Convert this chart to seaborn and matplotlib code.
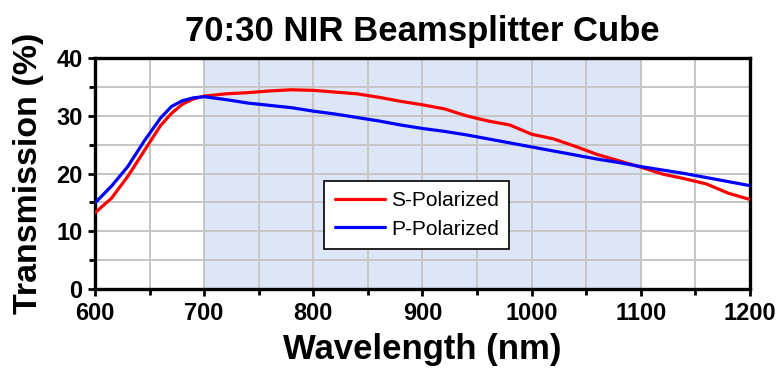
import seaborn as sns
import pandas as pd
import matplotlib.pyplot as plt
from matplotlib.ticker import MultipleLocator

wavelength = [600, 615, 630, 645, 660, 670, 680, 690, 700, 720, 740, 760, 780, 800, 820, 840,
              860, 880, 900, 920, 940, 960, 980, 1000, 1020, 1040, 1060, 1080, 1100,
              1120, 1140, 1160, 1180, 1200]
s_pol = [13.2, 15.7, 19.5, 23.9, 28.3, 30.4, 32.0, 32.9, 33.4, 33.8, 34.0, 34.3, 34.5, 34.4, 34.1,
         33.8, 33.2, 32.5, 31.9, 31.2, 30.0, 29.1, 28.4, 26.8, 26.0, 24.7, 23.3, 22.2, 21.1,
         19.9, 19.1, 18.2, 16.6, 15.5]
p_pol = [14.9, 17.8, 21.2, 25.6, 29.6, 31.6, 32.6, 33.1, 33.3, 32.8, 32.2, 31.8, 31.4, 30.8, 30.3,
         29.7, 29.1, 28.4, 27.8, 27.3, 26.7, 26.0, 25.3, 24.6, 23.9, 23.2, 22.5, 21.9, 21.2,
         20.6, 20.0, 19.3, 18.6, 17.9]
labels = ["S-Polarized", "P-Polarized"]
shade = (700, 1100)

df = pd.DataFrame({
    "wl": wavelength * 2,
    "T": s_pol + p_pol,
    "pol": [labels[0]] * len(s_pol) + [labels[1]] * len(p_pol),
})

sns.set_style("white")
plt.rcParams["font.family"] = ["Liberation Sans", "DejaVu Sans"]
plt.rcParams.update({"text.color": "black", "axes.labelcolor": "black",
                     "xtick.color": "black", "ytick.color": "black"})

fig = plt.figure(figsize=(7.8, 3.7), dpi=100)
ax = fig.add_axes([0.1218, 0.2189, 0.8397, 0.6243])

ax.axvspan(*shade, color="#dde6f6", zorder=0.2, lw=0)
sns.lineplot(data=df, x="wl", y="T", hue="pol", palette=["#ff0000", "#0000ff"],
             lw=2.3, ax=ax, zorder=3)

ax.set_xlim(600, 1200)
ax.set_ylim(0, 40)
ax.xaxis.set_major_locator(MultipleLocator(100))
ax.xaxis.set_minor_locator(MultipleLocator(50))
ax.yaxis.set_major_locator(MultipleLocator(10))
ax.yaxis.set_minor_locator(MultipleLocator(5))
ax.set_axisbelow(True)
ax.grid(which="both", color="#c6c6c6", lw=1.4)

for s in ax.spines.values():
    s.set_linewidth(2.4)
    s.set_color("black")
ax.tick_params(which="major", length=5, width=2, labelsize=17, direction="out", pad=4)
ax.tick_params(which="minor", length=4, width=2, direction="out")
ax.tick_params(axis="both", which="both", bottom=True, left=True)
for t in ax.get_xticklabels() + ax.get_yticklabels():
    t.set_fontweight("bold")

ax.set_xlabel("Wavelength (nm)", fontsize=25, fontweight="bold", labelpad=6)
ax.set_ylabel("Transmission (%)", fontsize=24.5, fontweight="bold", labelpad=9)
ax.set_title("70:30 NIR Beamsplitter Cube", fontsize=25, fontweight="bold", pad=12)

leg = ax.legend(loc="lower left", bbox_to_anchor=(0.35, 0.173), borderaxespad=0,
                fontsize=15, frameon=True, fancybox=False, edgecolor="black",
                handlelength=2.4, handletextpad=0.3, borderpad=0.5, labelspacing=0.45)
leg.get_frame().set_linewidth(1.2)
leg.get_frame().set_alpha(1)

fig.savefig("out.png", dpi=100)
